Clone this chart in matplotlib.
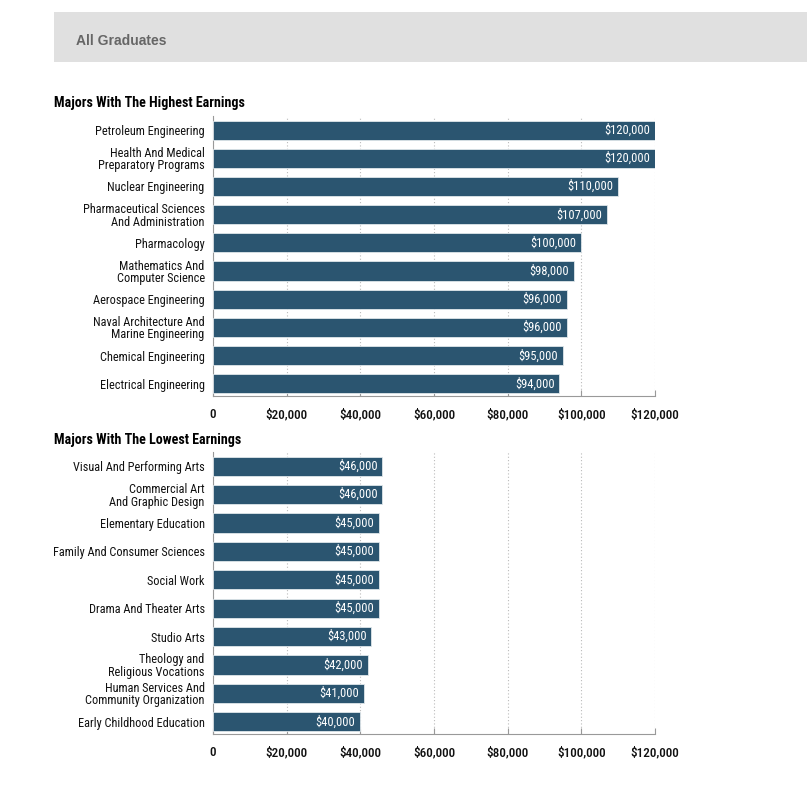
import matplotlib
matplotlib.use('Agg')
import matplotlib.pyplot as plt
import matplotlib.ticker as ticker
from matplotlib.patches import Rectangle

high_majors = ['Petroleum Engineering', 'Health And Medical\nPreparatory Programs', 'Nuclear Engineering',
               'Pharmaceutical Sciences\nAnd Administration', 'Pharmacology', 'Mathematics And\nComputer Science',
               'Aerospace Engineering', 'Naval Architecture And\nMarine Engineering', 'Chemical Engineering',
               'Electrical Engineering']
high_earnings = [120000, 120000, 110000, 107000, 100000, 98000, 96000, 96000, 95000, 94000]

low_majors = ['Visual And Performing Arts', 'Commercial Art\nAnd Graphic Design', 'Elementary Education',
              'Family And Consumer Sciences', 'Social Work', 'Drama And Theater Arts', 'Studio Arts',
              'Theology and\nReligious Vocations', 'Human Services And\nCommunity Organization',
              'Early Childhood Education']
low_earnings = [46000, 46000, 45000, 45000, 45000, 45000, 43000, 42000, 41000, 40000]

x_ticks = [0, 20000, 40000, 60000, 80000, 100000, 120000]

plt.rcParams['font.family'] = ['Roboto Condensed', 'DejaVu Sans']

BAR = '#2b5570'
GRID = '#bbbbbb'


def money(v, pos=None):
    if v == 0:
        return '0'
    return '${:,.0f}'.format(v)


def draw_panel(ax, labels, values):
    y = list(range(len(values)))
    ax.barh(y, values, height=0.68, color=BAR, edgecolor='#dfe6ea', linewidth=0.6, zorder=3)
    for yi, v in zip(y, values):
        ax.text(v - 1300, yi, money(v), color='white', ha='right', va='center', fontsize=9, zorder=4)
    ax.set_xlim(0, 120000)
    ax.set_ylim(9.43, -0.5)
    ax.set_yticks(y)
    ax.set_yticklabels(labels, fontsize=8.8, linespacing=0.95, color='#111111')
    ax.set_xticks(x_ticks)
    ax.xaxis.set_major_formatter(ticker.FuncFormatter(money))
    ax.tick_params(axis='x', direction='in', length=4, color='#999999', labelsize=9.5, pad=9,
                   labelcolor='#111111')
    ax.tick_params(axis='y', length=0, pad=6)
    for lbl in ax.get_xticklabels():
        lbl.set_fontweight('medium')
    ax.grid(axis='x', linestyle=(0, (1, 2)), color=GRID, linewidth=0.8, zorder=0)
    for s in ['top', 'right']:
        ax.spines[s].set_visible(False)
    ax.spines['bottom'].set_color('#999999')
    ax.spines['left'].set_color('#999999')
    ax.spines['left'].set_linewidth(0.8)


fig = plt.figure(figsize=(8.07, 7.87), dpi=100)

# header band
fig.patches.append(Rectangle((54 / 807, 1 - 62 / 787), 1, 50 / 787, transform=fig.transFigure,
                             facecolor='#e0e0e0', edgecolor='none', zorder=0))
fig.text(76 / 807, 1 - 41 / 787, 'All Graduates', fontsize=10, fontweight='bold', color='#666666',
         va='center', ha='left', family='Liberation Sans')

ax1 = fig.add_axes([213 / 807, 1 - 396 / 787, 442 / 807, 280 / 787])
draw_panel(ax1, high_majors, high_earnings)
fig.text(54 / 807, 1 - 103 / 787, 'Majors With The Highest Earnings', fontsize=10.1, fontweight='bold',
         va='center', ha='left')

ax2 = fig.add_axes([213 / 807, 1 - 734 / 787, 442 / 807, 282 / 787])
draw_panel(ax2, low_majors, low_earnings)
fig.text(54 / 807, 1 - 440 / 787, 'Majors With The Lowest Earnings', fontsize=10.1, fontweight='bold',
         va='center', ha='left')

plt.savefig('out.png', dpi=100)
